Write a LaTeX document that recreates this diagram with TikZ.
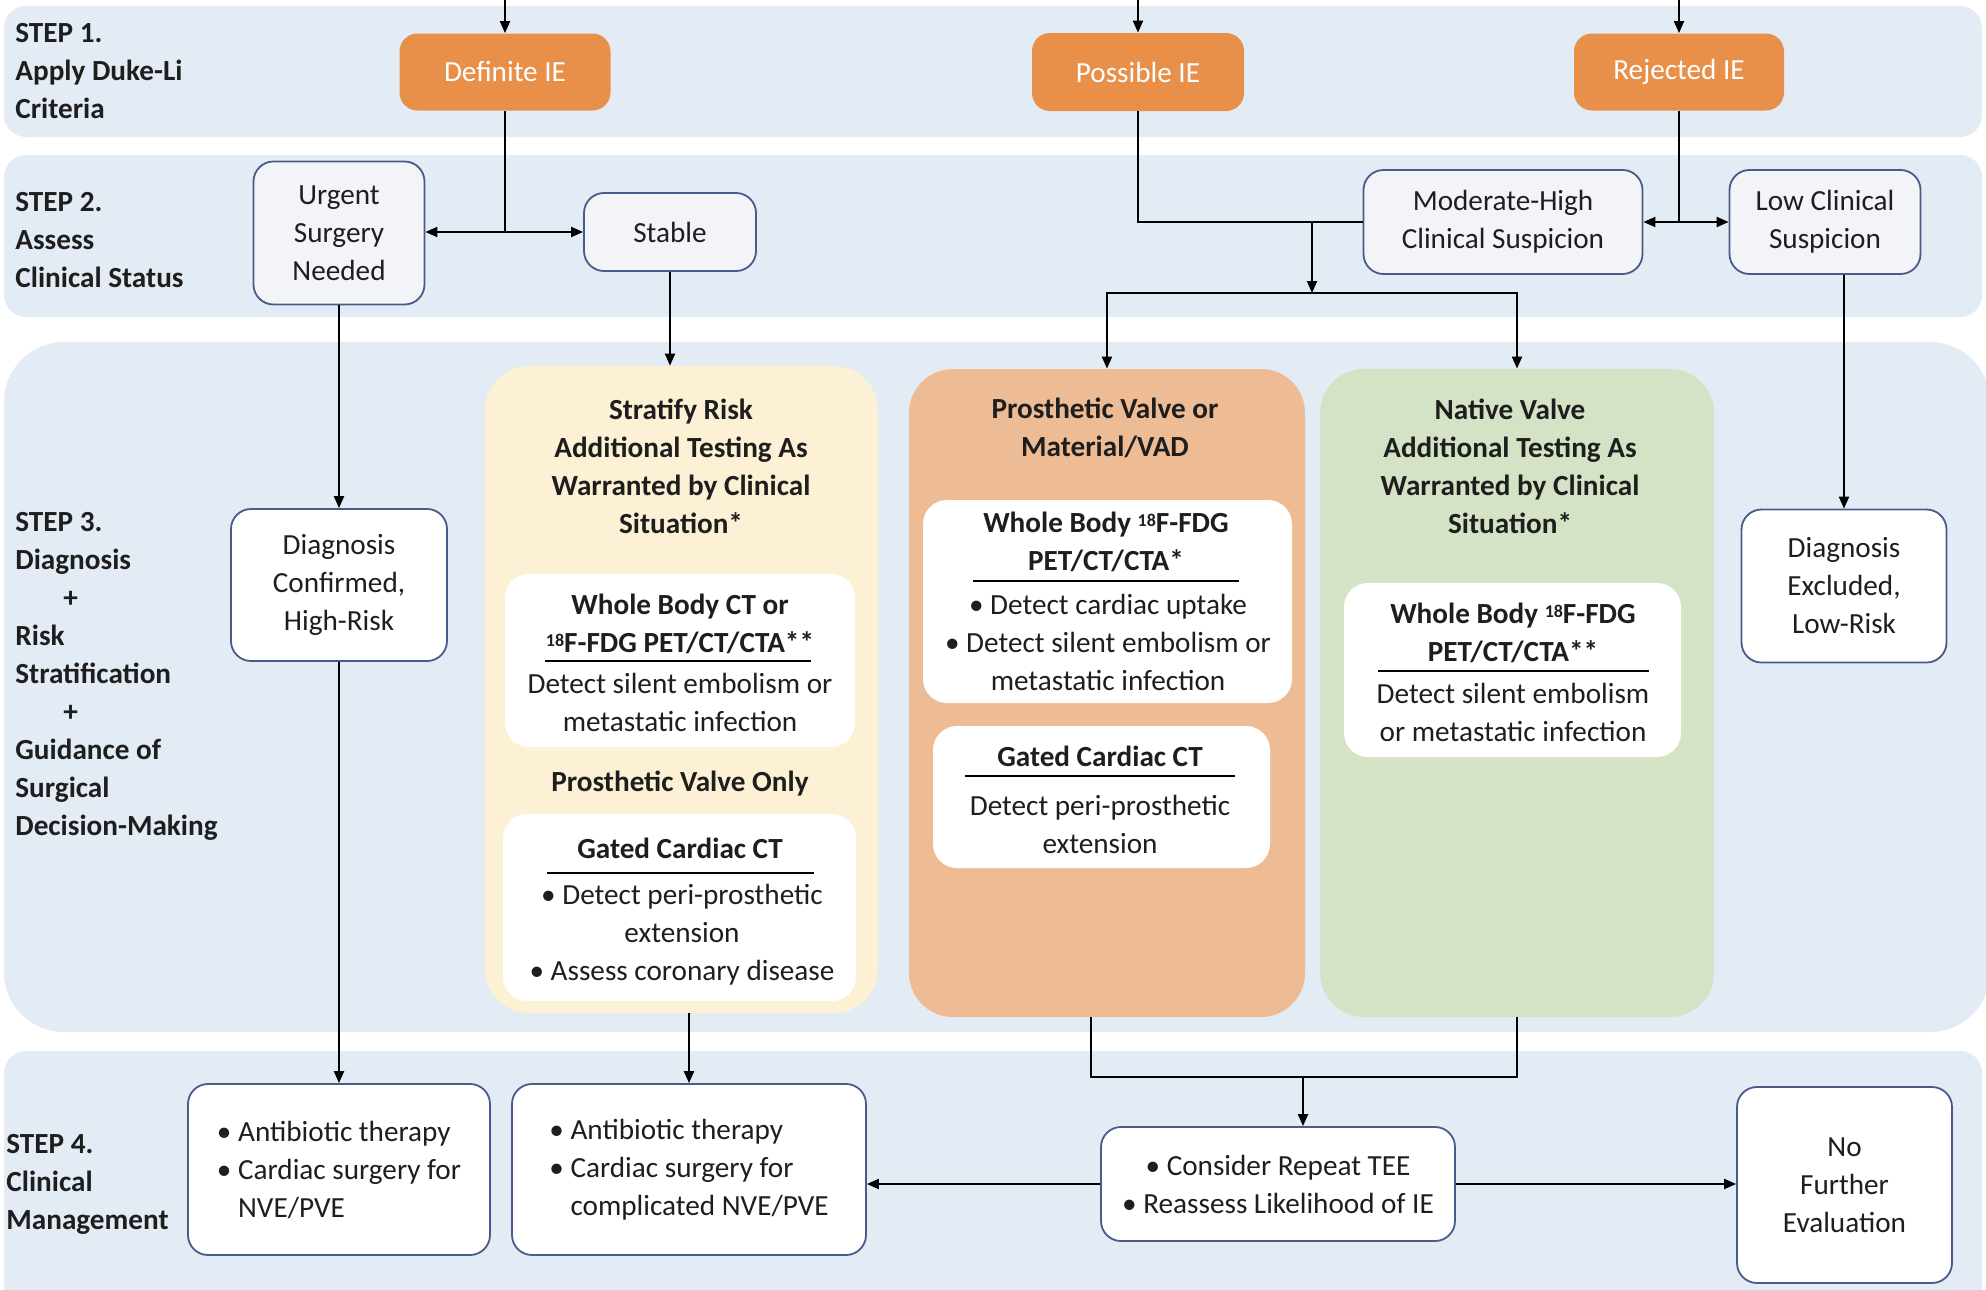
\documentclass[tikz,border=0pt]{standalone}
\usepackage{fontspec}
\setmainfont{Carlito}
\usetikzlibrary{arrows.meta,calc}

\definecolor{bandblue}{HTML}{E3EBF4}
\definecolor{ieorange}{HTML}{E8904A}
\definecolor{peach}{HTML}{EDBC94}
\definecolor{cream}{HTML}{FCF0D5}
\definecolor{sage}{HTML}{D4E3C5}
\definecolor{navy}{HTML}{4A5B8B}
\definecolor{boxgray}{HTML}{F2F4F7}
\definecolor{ink}{HTML}{1E1E1E}

\tikzset{
  every node/.style={font=\fontsize{14.6pt}{19pt}\selectfont, text=ink},
  band/.style={fill=bandblue},
  iebox/.style={fill=ieorange, rounded corners=9pt, text=white, inner sep=0pt},
  statusbox/.style={draw=navy, line width=0.9pt, fill=boxgray, rounded corners=10pt, align=center, inner sep=0pt},
  outbox/.style={draw=navy, line width=0.9pt, fill=white, rounded corners=10pt, inner sep=0pt},
  panel/.style={rounded corners=22pt, inner sep=0pt},
  testbox/.style={fill=white, rounded corners=12pt, inner sep=0pt},
  head/.style={font=\bfseries\fontsize{14.6pt}{19pt}\selectfont, align=center, inner sep=0pt},
  body/.style={align=center, inner sep=0pt},
  steplabel/.style={font=\bfseries\fontsize{14.6pt}{19pt}\selectfont, align=left, anchor=west, inner sep=0pt},
  link/.style={line width=1pt, draw=black},
  arr/.style={link, -{Triangle[length=6pt,width=5pt]}},
  testrule/.style={line width=1pt}
}
\newcommand{\isotope}[1]{\raisebox{0.45ex}{\fontsize{9pt}{9pt}\selectfont #1}}

\begin{document}
\begin{tikzpicture}[x=0.5pt, y=-0.5pt]
\useasboundingbox (0,0) rectangle (1986,1290);

% step bands
\fill[band, rounded corners=11pt] (4,6) rectangle (1982,137);
\fill[band, rounded corners=11pt] (4,155) rectangle (1982,317);
\fill[band, rounded corners=30pt] (4,342) rectangle (1990,1032);
\fill[band, rounded corners=11pt] (4,1051) rectangle (1982,1320);

% step labels
\node[steplabel] (s1) at (15,71) {STEP 1.\\Apply Duke-Li\\Criteria};
\node[steplabel] (s2) at (15,240) {STEP 2.\\Assess\\Clinical Status};
\node[steplabel] (s3) at (15,676) {STEP 3.\\Diagnosis\\\hspace*{24pt}+\\Risk\\Stratification\\\hspace*{24pt}+\\Guidance of\\Surgical\\Decision-Making};
\node[steplabel] (s4) at (6,1184) {STEP 4.\\Clinical\\Management};

% step 1: Duke-Li categories
\node[iebox, minimum width=105.5pt, minimum height=38.5pt] (definite) at (505,72) {Definite IE};
\node[iebox, minimum width=106pt, minimum height=39pt] (possible) at (1138,72) {Possible IE};
\node[iebox, minimum width=105pt, minimum height=38.5pt] (rejected) at (1679,72) {Rejected IE};

% step 2: clinical status
\node[statusbox, minimum width=85.5pt, minimum height=71.5pt] (urgent) at (339,233) {Urgent\\Surgery\\Needed};
\node[statusbox, minimum width=86pt, minimum height=39pt] (stable) at (670,232) {Stable};
\node[statusbox, minimum width=139.5pt, minimum height=52pt] (modhigh) at (1503,222) {Moderate-High\\Clinical Suspicion};
\node[statusbox, minimum width=95.5pt, minimum height=52pt] (lowsusp) at (1825,222) {Low Clinical\\Suspicion};

% step 3: diagnosis and imaging
\node[outbox, align=center, minimum width=108pt, minimum height=76pt] (confirmed) at (339,585) {Diagnosis\\Confirmed,\\High-Risk};
\node[outbox, align=center, minimum width=102.5pt, minimum height=76.5pt] (excluded) at (1844,586) {Diagnosis\\Excluded,\\Low-Risk};

\node[panel, fill=cream, minimum width=196.5pt, minimum height=323.5pt] (ypanel) at (681.5,689.5) {};
\node[panel, fill=peach, minimum width=198pt, minimum height=324pt] (opanel) at (1107,693) {};
\node[panel, fill=sage, minimum width=197pt, minimum height=324pt] (gpanel) at (1517,693) {};

\node[head] (ytitle) at (681,466) {Stratify Risk\\Additional Testing As\\Warranted by Clinical\\Situation*};
\node[head] (otitle) at (1105,428) {Prosthetic Valve or\\Material/VAD};
\node[head] (gtitle) at (1510,466) {Native Valve\\Additional Testing As\\Warranted by Clinical\\Situation*};

% stable patients
\node[testbox, minimum width=175pt, minimum height=86.5pt] (ywb) at (680,660.5) {};
\node[head] (ywbhead) at (680,624) {Whole Body CT or\\\isotope{18}F-FDG PET/CT/CTA**};
\draw[testrule] (545,661) -- (811,661);
\node[body] (ywbbody) at (680,702) {Detect silent embolism or\\metastatic infection};
\node[head] (yonly) at (680,784) {Prosthetic Valve Only};
\node[testbox, minimum width=176.5pt, minimum height=93.5pt] (ygc) at (679.5,907.5) {};
\node[head] (ygchead) at (680,848) {Gated Cardiac CT};
\draw[testrule] (547,873) -- (814,873);
\node[body] (ygcbody) at (682,935) {• Detect peri-prosthetic\\extension\\• Assess coronary disease};

% prosthetic valve or material
\node[testbox, minimum width=184.5pt, minimum height=101.5pt] (owb) at (1107.5,601.5) {};
\node[head] (owbhead) at (1106,542) {Whole Body \isotope{18}F-FDG\\PET/CT/CTA*};
\draw[testrule] (973,581) -- (1239,581);
\node[body] (owbbody) at (1108,642) {• Detect cardiac uptake\\• Detect silent embolism or\\metastatic infection};
\node[testbox, minimum width=168.5pt, minimum height=71pt] (ogc) at (1101.5,797) {};
\node[head] (ogchead) at (1100,756) {Gated Cardiac CT};
\draw[testrule] (965,776) -- (1235,776);
\node[body] (ogcbody) at (1100,824) {Detect peri-prosthetic\\extension};

% native valve
\node[testbox, minimum width=168.5pt, minimum height=87pt] (gwb) at (1512.5,670) {};
\node[head] (gwbhead) at (1513,633) {Whole Body \isotope{18}F-FDG\\PET/CT/CTA**};
\draw[testrule] (1378,671) -- (1649,671);
\node[body] (gwbbody) at (1513,712) {Detect silent embolism\\or metastatic infection};

% step 4: clinical management
\node[outbox, align=left, minimum width=151pt, minimum height=85.5pt] (mgmtA) at (339,1169.5) {• Antibiotic therapy\\• Cardiac surgery for\\\hphantom{• }NVE/PVE};
\node[outbox, align=left, minimum width=177pt, minimum height=85.5pt] (mgmtB) at (689,1169.5) {• Antibiotic therapy\\• Cardiac surgery for\\\hphantom{• }complicated NVE/PVE};
\node[outbox, align=center, minimum width=177pt, minimum height=57pt] (repeat) at (1278,1184) {• Consider Repeat TEE\\• Reassess Likelihood of IE};
\node[outbox, align=center, minimum width=107.5pt, minimum height=98pt] (nofurther) at (1844.5,1185) {No\\Further\\Evaluation};

% connectors
\coordinate (srcD) at (505,0);
\coordinate (srcP) at (1138,0);
\coordinate (srcR) at (1679,0);
\draw[arr] (srcD) -- (definite);
\draw[arr] (srcP) -- (possible);
\draw[arr] (srcR) -- (rejected);

\coordinate (jD) at (505,232);
\draw[link] (definite) -- (jD);
\draw[arr] (jD) -- (jD -| urgent.east);
\draw[arr] (jD) -- (stable);

\coordinate (jP) at (1312,222);
\coordinate (jSplit) at (1312,293);
\draw[link] (possible) |- (modhigh);
\draw[arr] (jP) -- (jSplit);
\draw[arr] (jSplit) -| (opanel);
\draw[arr] (jSplit) -| (gpanel);

\coordinate (jR) at (1679,222);
\draw[link] (rejected) -- (jR);
\draw[arr] (jR) -- (modhigh);
\draw[arr] (jR) -- (lowsusp);

\draw[arr] (urgent) -- (confirmed);
\draw[arr] (stable.south) -- (stable.south |- ypanel.north);
\draw[arr] (excluded.north |- lowsusp.south) -- (excluded.north);

\draw[arr] (confirmed) -- (mgmtA);
\draw[arr] (mgmtB.north |- ypanel.south) -- (mgmtB.north);
\coordinate (jM) at (1303,1077);
\draw[link] ([xshift=-8pt]opanel.south) |- (jM) -| (gpanel.south);
\draw[arr] (jM) -- (jM |- repeat.north);
\draw[arr] (repeat.west) -- (repeat.west -| mgmtB.east);
\draw[arr] (repeat.east) -- (repeat.east -| nofurther.west);
\end{tikzpicture}
\end{document}
